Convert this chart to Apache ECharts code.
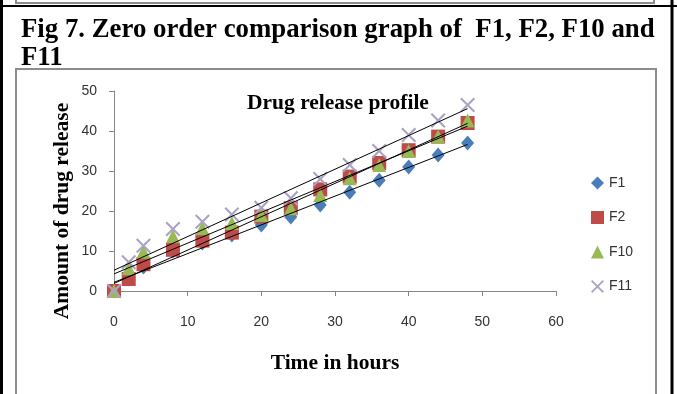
<!DOCTYPE html>
<html>
<head>
<meta charset="utf-8">
<script src="https://cdn.jsdelivr.net/npm/echarts@6/dist/echarts.min.js"></script>
<style>html,body{margin:0;padding:0;background:#fff;}#c{width:677px;height:394px;}</style>
</head>
<body>
<div id="c"></div>
<script>
const hours = [0, 2, 4, 8, 12, 16, 20, 24, 28, 32, 36, 40, 44, 48];
const F1  = [0, 3, 6, 10, 12, 14, 16.5, 18.5, 21.5, 24.7, 27.7, 31, 34, 37];
const F2  = [0, 3, 6.7, 10.3, 12.6, 14.6, 18.6, 20.7, 25.4, 28.6, 32, 35.2, 38.6, 42];
const F10 = [0, 5.7, 9.8, 13.7, 15.7, 17, 19, 20.7, 24, 28.2, 31.5, 35, 38.6, 42.6];
const F11 = [0, 7.2, 11.3, 15.5, 17.3, 19.1, 20.8, 23.2, 28, 31.5, 35, 39, 42.6, 46.5];
const seriesNames = ['F1', 'F2', 'F10', 'F11'];
const xTicks = [0, 10, 20, 30, 40, 50, 60];
const yTicks = [0, 10, 20, 30, 40, 50];

const caption = 'Fig 7. Zero order comparison graph of  F1, F2, F10 and\nF11';
const chartTitle = 'Drug release profile';
const xName = 'Time in hours';
const yName = 'Amount of drug release';

function fit(xs, ys) {
  const n = xs.length;
  let sx = 0, sy = 0, sxx = 0, sxy = 0;
  for (let i = 0; i < n; i++) { sx += xs[i]; sy += ys[i]; sxx += xs[i] * xs[i]; sxy += xs[i] * ys[i]; }
  const b = (n * sxy - sx * sy) / (n * sxx - sx * sx);
  const a = (sy - b * sx) / n;
  const x0 = xs[0], x1 = xs[n - 1];
  return [[x0, a + b * x0], [x1, a + b * x1]];
}

const dataSets = [F1, F2, F10, F11];
const styles = [
  { symbol: 'diamond', size: [13, 15], color: '#4a7ebb' },
  { symbol: 'rect', size: 14, color: '#be4b48' },
  { symbol: 'triangle', size: 14, color: '#98b954' },
  { symbol: 'path://M0,1L1,0L5,4L9,0L10,1L6,5L10,9L9,10L5,6L1,10L0,9L4,5Z', size: 15, color: '#aaa3c4' }
];

const series = [];
dataSets.forEach((d, i) => {
  series.push({
    name: seriesNames[i], type: 'scatter',
    data: hours.map((h, j) => [h, d[j]]),
    symbol: styles[i].symbol, symbolSize: styles[i].size,
    itemStyle: { color: styles[i].color, opacity: 1 },
    z: 2 + i
  });
});
dataSets.forEach((d, i) => {
  series.push({
    name: seriesNames[i] + ' trend', type: 'line',
    data: fit(hours, d), symbol: 'none', silent: true,
    lineStyle: { color: '#000', width: 1 }, z: 10
  });
});

const serifBold = { fontFamily: 'Liberation Serif', fontWeight: 'bold', fontSize: 21.5, fill: '#000' };

const chart = echarts.init(document.getElementById('c'), null, { renderer: 'canvas' });
chart.setOption({
  animation: false,
  backgroundColor: '#fff',
  title: [
    { text: caption, left: 16, top: 11,
      textStyle: { fontFamily: 'Liberation Serif', fontWeight: 'bold', fontSize: 26.8, lineHeight: 28, color: '#000' } },
    { text: chartTitle, left: 242, top: 87,
      textStyle: { fontFamily: 'Liberation Serif', fontWeight: 'bold', fontSize: 21.5, color: '#000' } }
  ],
  graphic: [
    { type: 'rect', shape: { x: 16, y: -10, width: 638, height: 13 }, style: { fill: 'none', stroke: '#8c8c8c', lineWidth: 2 } },
    { type: 'line', shape: { x1: 0, y1: 6, x2: 677, y2: 6 }, style: { stroke: '#000', lineWidth: 2 } },
    { type: 'line', shape: { x1: 1.5, y1: 0, x2: 1.5, y2: 394 }, style: { stroke: '#000', lineWidth: 3 } },
    { type: 'line', shape: { x1: 672, y1: 0, x2: 672, y2: 394 }, style: { stroke: '#000', lineWidth: 3 } },
    { type: 'rect', shape: { x: 16, y: 69, width: 640, height: 340 }, style: { fill: 'none', stroke: '#8c8c8c', lineWidth: 2 } },
    { type: 'text', x: 62, y: 211, rotation: Math.PI / 2,
      style: Object.assign({ text: yName, textAlign: 'center', textVerticalAlign: 'middle' }, serifBold) }
  ],
  legend: {
    data: seriesNames, orient: 'vertical', left: 586, top: 171, itemGap: 20.5,
    itemWidth: 13, itemHeight: 13,
    textStyle: { fontFamily: 'Liberation Sans', fontSize: 14, color: '#333' }
  },
  grid: { left: 114, right: 121, top: 91, bottom: 103 },
  xAxis: {
    type: 'value', min: 0, max: 60, interval: 10,
    name: xName, nameLocation: 'middle', nameGap: 61,
    nameTextStyle: { fontFamily: 'Liberation Serif', fontWeight: 'bold', fontSize: 21.5, color: '#000' },
    axisLine: { lineStyle: { color: '#868686' } },
    axisTick: { show: true, length: 5, lineStyle: { color: '#868686' } },
    axisLabel: { fontFamily: 'Liberation Sans', fontSize: 14, color: '#333', margin: 24 },
    splitLine: { show: false }
  },
  yAxis: {
    type: 'value', min: 0, max: 50, interval: 10,
    axisLine: { show: true, lineStyle: { color: '#868686' } },
    axisTick: { show: true, length: 5, lineStyle: { color: '#868686' } },
    axisLabel: { fontFamily: 'Liberation Sans', fontSize: 14, color: '#333', margin: 17 },
    splitLine: { show: false }
  },
  series: series
});
</script>
</body>
</html>
